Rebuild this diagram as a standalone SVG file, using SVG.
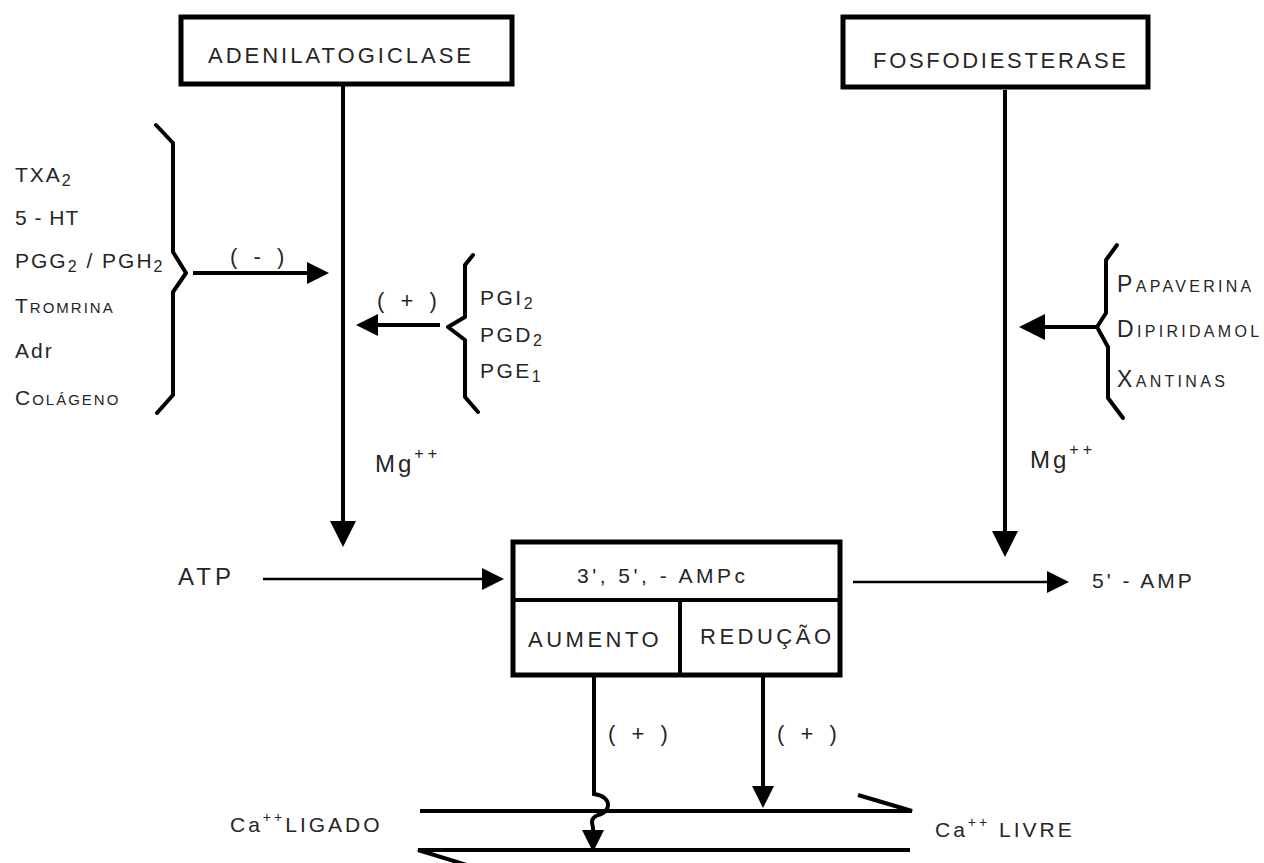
<svg xmlns="http://www.w3.org/2000/svg" width="1264" height="863" viewBox="0 0 1264 863">
<style>
  .t{font-family:"Liberation Sans",Arial,sans-serif;fill:#262626;}
  .box{fill:#fff;stroke:#000;stroke-width:5;}
  .ln{fill:none;stroke:#000;stroke-width:4;}
  .thin{fill:none;stroke:#000;stroke-width:2.5;}
  .br{fill:none;stroke:#000;stroke-width:4;stroke-linejoin:round;stroke-linecap:round;}
  .arr{marker-end:url(#ah);}
  .arrs{marker-end:url(#ahs);}
</style>
<defs>
  <marker id="ah" markerUnits="userSpaceOnUse" markerWidth="26" markerHeight="26" viewBox="0 0 26 26" refX="1" refY="13" orient="auto">
    <path d="M0,0 L26,13 L0,26 z" fill="#000"/>
  </marker>
  <marker id="ahs" markerUnits="userSpaceOnUse" markerWidth="22" markerHeight="22" viewBox="0 0 22 22" refX="1" refY="11" orient="auto">
    <path d="M0,0 L22,11 L0,22 z" fill="#000"/>
  </marker>
</defs>
<rect width="1264" height="863" fill="#fff"/>

<g id="connectors">
  <line class="ln arr" x1="343" y1="86" x2="343" y2="522"/>
  <line class="ln arr" x1="1005" y1="90" x2="1005" y2="532"/>
  <line class="ln arrs" x1="193" y1="273" x2="308" y2="273"/>
  <line class="ln arrs" x1="440" y1="325" x2="377" y2="325"/>
  <line class="ln arr" x1="1097" y1="327" x2="1044" y2="327"/>
  <line class="thin arrs" x1="263" y1="579" x2="483" y2="579"/>
  <line class="thin arrs" x1="853" y1="582" x2="1048" y2="582"/>
  <line class="ln arrs" x1="763" y1="677" x2="763" y2="787"/>
  <path class="ln arrs" d="M594,677 V794 C612,796 612,812 598,815 C590,818 592,823 593,828 V831"/>
  <path class="ln" d="M420,811 H912 L858,795"/>
  <path class="ln" d="M470,866 L418,850 H910"/>
</g>

<g id="adenilatogiclase">
  <rect class="box" x="181" y="17" width="331" height="67"/>
  <text class="t" x="208" y="63" font-size="22" letter-spacing="3">ADENILATOGICLASE</text>
</g>

<g id="fosfodiesterase">
  <rect class="box" x="843" y="17" width="305" height="70"/>
  <text class="t" x="873" y="68" font-size="22" letter-spacing="2.7">FOSFODIESTERASE</text>
</g>

<g id="inibidores">
  <polyline class="br" points="156,125 173,143 173,252 186,273 173,292 173,395 157,413"/>
  <g class="t" font-size="21" letter-spacing="2">
    <text x="15" y="182">TXA<tspan font-size="16" dy="4">2</tspan></text>
    <text x="15" y="225" letter-spacing="1">5 - HT</text>
    <text x="15" y="268">PGG<tspan font-size="16" dy="4">2</tspan><tspan dy="-4"> / PGH</tspan><tspan font-size="16" dy="4">2</tspan></text>
    <text x="15" y="313">T<tspan font-size="15">ROMRINA</tspan></text>
    <text x="15" y="358">Adr</text>
    <text x="15" y="405">C<tspan font-size="15">OLÁGENO</tspan></text>
  </g>
  <text class="t" x="230" y="264" font-size="22" letter-spacing="5">( - )</text>
</g>

<g id="estimuladores">
  <polyline class="br" points="473,255 465,265 465,317 448,327 465,340 465,397 478,412"/>
  <g class="t" font-size="21" letter-spacing="2.5">
    <text x="480" y="305">PGI<tspan font-size="16" dy="4">2</tspan></text>
    <text x="480" y="342">PGD<tspan font-size="16" dy="4">2</tspan></text>
    <text x="480" y="378">PGE<tspan font-size="16" dy="4">1</tspan></text>
  </g>
  <text class="t" x="377" y="308" font-size="22" letter-spacing="5">( + )</text>
</g>

<g id="inibidores-fde">
  <polyline class="br" points="1117,245 1106,260 1106,313 1097,327 1108,347 1108,398 1123,418"/>
  <g class="t" font-size="23" letter-spacing="3.3">
    <text x="1117" y="292">P<tspan font-size="16">APAVERINA</tspan></text>
    <text x="1117" y="337">D<tspan font-size="16">IPIRIDAMOL</tspan></text>
    <text x="1117" y="387">X<tspan font-size="16">ANTINAS</tspan></text>
  </g>
</g>

<g id="mg-left">
  <text class="t" x="375" y="472" font-size="24" letter-spacing="3">Mg<tspan font-size="16" dy="-13" letter-spacing="4">++</tspan></text>
</g>
<g id="mg-right">
  <text class="t" x="1030" y="468" font-size="24" letter-spacing="3">Mg<tspan font-size="16" dy="-13" letter-spacing="4">++</tspan></text>
</g>

<g id="atp">
  <text class="t" x="178" y="585" font-size="24" letter-spacing="4">ATP</text>
</g>

<g id="ampc">
  <rect class="box" x="513" y="542" width="327" height="133" stroke-width="4.5"/>
  <line class="ln" x1="513" y1="600" x2="840" y2="600"/>
  <line class="ln" x1="680" y1="600" x2="680" y2="675"/>
  <text class="t" x="577" y="583" font-size="21" letter-spacing="3.5">3', 5', - AMPc</text>
  <text class="t" x="528" y="647" font-size="22" letter-spacing="3.5">AUMENTO</text>
  <text class="t" x="700" y="644" font-size="22" letter-spacing="3.5">REDUÇÃO</text>
</g>

<g id="amp5">
  <text class="t" x="1092" y="588" font-size="21" letter-spacing="3">5' - AMP</text>
</g>

<g id="labels-plus">
  <text class="t" x="608" y="741" font-size="22" letter-spacing="5">( + )</text>
  <text class="t" x="777" y="741" font-size="22" letter-spacing="5">( + )</text>
</g>

<g id="ca-ligado">
  <text class="t" x="230" y="832" font-size="21" letter-spacing="3">Ca<tspan font-size="14" dy="-10">++</tspan><tspan dy="10">LIGADO</tspan></text>
</g>
<g id="ca-livre">
  <text class="t" x="935" y="837" font-size="21" letter-spacing="3">Ca<tspan font-size="14" dy="-10">++</tspan><tspan dy="10"> LIVRE</tspan></text>
</g>
</svg>
